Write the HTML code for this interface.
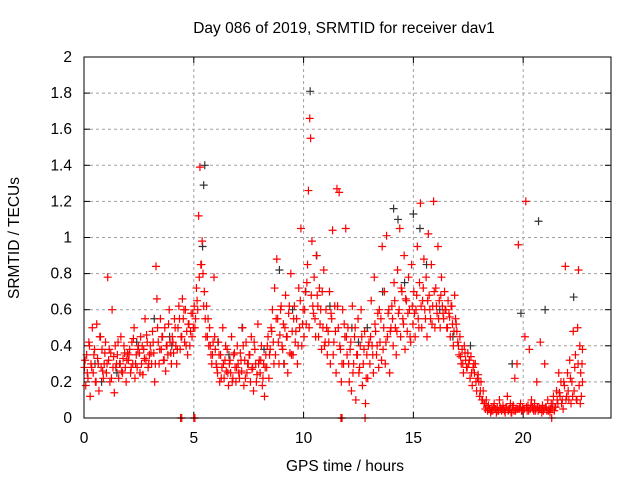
<!DOCTYPE html>
<html><head><meta charset="utf-8"><style>
body{margin:0;background:#fff;}
svg{display:block;font-family:"Liberation Sans",sans-serif;}
</style></head><body>
<svg id="chart" width="640" height="480" viewBox="0 0 640 480">
<rect width="640" height="480" fill="#fff"/>
<text x="344" y="33" font-size="15.5" text-anchor="middle">Day 086 of 2019, SRMTID for receiver dav1</text>
<text x="345" y="471" font-size="15.5" text-anchor="middle">GPS time / hours</text>
<text transform="translate(19,238) rotate(-90)" font-size="15.5" text-anchor="middle">SRMTID / TECUs</text>
<g id="grid"></g><g id="ticks"></g><g id="black"></g><g id="red"></g>
<rect x="84" y="57" width="527" height="361" fill="none" stroke="#000" stroke-width="1"/>
</svg>
<script>
const xTicks=[0,5,10,15,20];
const yTicks=[0,0.2,0.4,0.6,0.8,1,1.2,1.4,1.6,1.8,2];
const yTickLabels=["0","0.2","0.4","0.6","0.8","1","1.2","1.4","1.6","1.8","2"];
const redT=[
0.02,0.08,0.12,0.18,0.22,0.28,0.32,0.38,0.42,0.48,
0.52,0.58,0.62,0.68,0.72,0.78,0.82,0.88,0.92,0.98,
1.02,1.08,1.12,1.18,1.22,1.28,1.32,1.38,1.42,1.48,
1.52,1.58,1.62,1.68,1.72,1.78,1.82,1.88,1.92,1.98,
2.02,2.08,2.12,2.18,2.22,2.28,2.32,2.38,2.42,2.48,
2.52,2.58,2.62,2.68,2.72,2.78,2.82,2.88,2.92,2.98,
3.02,3.08,3.12,3.18,3.22,3.28,3.32,3.38,3.42,3.48,
3.52,3.58,3.62,3.68,3.72,3.78,3.82,3.88,3.92,3.98,
4.02,4.08,4.12,4.18,4.22,4.28,4.32,4.38,4.42,4.48,
4.52,4.58,4.62,4.68,4.72,4.78,4.82,4.88,4.92,4.98,
5.02,5.08,5.12,5.18,5.22,5.28,5.32,5.38,5.42,5.48,
5.52,5.58,5.62,5.68,5.72,5.78,5.82,5.88,5.92,5.98,
6.02,6.08,6.12,6.18,6.22,6.28,6.32,6.38,6.42,6.48,
6.52,6.58,6.62,6.68,6.72,6.78,6.82,6.88,6.92,6.98,
7.02,7.08,7.12,7.18,7.22,7.28,7.32,7.38,7.42,7.48,
7.52,7.58,7.62,7.68,7.72,7.78,7.82,7.88,7.92,7.98,
8.02,8.08,8.12,8.18,8.22,8.28,8.32,8.38,8.42,8.48,
8.52,8.58,8.62,8.68,8.72,8.78,8.82,8.88,8.92,8.98,
9.02,9.08,9.12,9.18,9.22,9.28,9.32,9.38,9.42,9.48,
9.52,9.58,9.62,9.68,9.72,9.78,9.82,9.88,9.92,9.98,
10.02,10.08,10.12,10.18,10.22,10.28,10.32,10.38,10.42,10.48,
10.52,10.58,10.62,10.68,10.72,10.78,10.82,10.88,10.92,10.98,
11.02,11.08,11.12,11.18,11.22,11.28,11.32,11.38,11.42,11.48,
11.52,11.58,11.62,11.68,11.72,11.78,11.82,11.88,11.92,11.98,
12.02,12.08,12.12,12.18,12.22,12.28,12.32,12.38,12.42,12.48,
12.52,12.58,12.62,12.68,12.72,12.78,12.82,12.88,12.92,12.98,
13.02,13.08,13.12,13.18,13.22,13.28,13.32,13.38,13.42,13.48,
13.52,13.58,13.62,13.68,13.72,13.78,13.82,13.88,13.92,13.98,
14.02,14.08,14.12,14.18,14.22,14.28,14.32,14.38,14.42,14.48,
14.52,14.58,14.62,14.68,14.72,14.78,14.82,14.88,14.92,14.98,
15.02,15.08,15.12,15.18,15.22,15.28,15.32,15.38,15.42,15.48,
15.52,15.58,15.62,15.68,15.72,15.78,15.82,15.88,15.92,15.98,
16.02,16.08,16.12,16.18,16.22,16.28,16.32,16.38,16.42,16.48,
16.52,16.58,16.62,16.68,16.72,16.78,16.82,16.88,16.92,16.98,
17.02,17.08,17.12,17.18,17.22,17.28,17.32,17.38,17.42,17.48,
17.52,17.58,17.62,17.68,17.72,17.78,17.82,17.88,17.92,17.98,
18.02,18.08,18.12,18.18,18.22,18.28,18.32,18.38,18.42,18.48,
18.52,18.58,18.62,18.68,18.72,18.78,18.82,18.88,18.92,18.98,
19.02,19.08,19.12,19.18,19.22,19.28,19.32,19.38,19.42,19.48,
19.52,19.58,19.62,19.68,19.72,19.78,19.82,19.88,19.92,19.98,
20.02,20.08,20.12,20.18,20.22,20.28,20.32,20.38,20.42,20.48,
20.52,20.58,20.62,20.68,20.72,20.78,20.82,20.88,20.92,20.98,
21.02,21.08,21.12,21.18,21.22,21.28,21.32,21.38,21.42,21.48,
21.52,21.58,21.62,21.68,21.72,21.78,21.82,21.88,21.92,21.98,
22.02,22.08,22.12,22.18,22.22,22.28,22.32,22.38,22.42,22.48,
22.5,22.52,22.55,22.58,22.6,22.62,22.65,22.68,22.7,22.7,
0.05,0.15,0.25,0.35,0.45,0.55,0.65,0.75,0.85,0.95,
1.05,1.15,1.25,1.35,1.45,1.55,1.65,1.75,1.85,1.95,
2.05,2.15,2.25,2.35,2.45,2.55,2.65,2.75,2.85,2.95,
3.05,3.15,3.25,3.35,3.45,3.55,3.65,3.75,3.85,3.95,
4.05,4.15,4.25,4.35,4.45,4.55,4.65,4.75,4.85,4.95,
5.05,5.15,5.25,5.35,5.45,5.55,5.65,5.75,5.85,5.95,
6.05,6.15,6.25,6.35,6.45,6.55,6.65,6.75,6.85,6.95,
7.05,7.15,7.25,7.35,7.45,7.55,7.65,7.75,7.85,7.95,
8.05,8.15,8.25,8.35,8.45,8.55,8.65,8.75,8.85,8.95,
9.05,9.15,9.25,9.35,9.45,9.55,9.65,9.75,9.85,9.95,
10.05,10.15,10.25,10.35,10.45,10.55,10.65,10.75,10.85,10.95,
11.05,11.15,11.25,11.35,11.45,11.55,11.65,11.75,11.85,11.95,
12.05,12.15,12.25,12.35,12.45,12.55,12.65,12.75,12.85,12.95,
13.05,13.15,13.25,13.35,13.45,13.55,13.65,13.75,13.85,13.95,
14.05,14.15,14.25,14.35,14.45,14.55,14.65,14.75,14.85,14.95,
15.05,15.15,15.25,15.35,15.45,15.55,15.65,15.75,15.85,15.95,
16.05,16.15,16.25,16.35,16.45,16.55,16.65,16.75,16.85,16.95,
17.05,17.15,17.25,17.35,17.45,17.55,17.65,17.75,17.85,17.95,
18.05,18.15,18.25,18.35,18.45,18.55,18.65,18.75,18.85,18.95,
19.05,19.15,19.25,19.35,19.45,19.55,19.65,19.75,19.85,19.95,
20.05,20.15,20.25,20.35,20.45,20.55,20.65,20.75,20.85,20.95,
21.05,21.15,21.25,21.35,21.45,21.55,21.65,21.75,21.85,21.95,
22.05,22.15,22.25,22.35,22.45,
4.4,4.45,5.0,5.05,11.7,11.75,12.8,21.3];
const redV=[
0.28,0.18,0.35,0.22,0.42,0.12,0.3,0.5,0.25,0.38,
0.2,0.52,0.33,0.15,0.45,0.28,0.38,0.22,0.3,0.42,
0.25,0.78,0.32,0.2,0.36,0.6,0.28,0.14,0.4,0.3,
0.35,0.22,0.3,0.45,0.26,0.33,0.4,0.28,0.2,0.36,
0.32,0.38,0.25,0.42,0.3,0.5,0.22,0.35,0.28,0.4,
0.36,0.45,0.3,0.24,0.38,0.55,0.32,0.42,0.28,0.35,
0.4,0.3,0.48,0.36,0.2,0.84,0.66,0.42,0.3,0.55,
0.38,0.45,0.32,0.5,0.26,0.4,0.35,0.6,0.42,0.3,
0.45,0.36,0.55,0.4,0.3,0.5,0.62,0.38,0.45,0.66,
0.55,0.42,0.6,0.48,0.35,0.52,0.4,0.58,0.45,0.5,
0.62,0.55,0.72,0.6,1.12,1.39,0.85,0.98,0.8,0.7,
0.55,0.62,0.45,0.4,0.5,0.35,0.3,0.42,0.78,0.38,
0.3,0.25,0.42,0.2,0.35,0.28,0.5,0.22,0.32,0.26,
0.38,0.18,0.3,0.25,0.45,0.22,0.35,0.28,0.2,0.4,
0.3,0.22,0.36,0.26,0.5,0.18,0.32,0.42,0.25,0.3,
0.35,0.2,0.45,0.28,0.15,0.38,0.3,0.24,0.52,0.32,
0.25,0.4,0.18,0.3,0.12,0.35,0.28,0.45,0.22,0.38,
0.5,0.6,0.42,0.72,0.35,0.88,0.55,0.3,0.46,0.62,
0.4,0.52,0.3,0.68,0.45,0.25,0.58,0.36,0.8,0.48,
0.35,0.62,0.42,0.55,0.3,0.72,0.5,1.05,0.4,0.6,
0.45,0.7,0.52,0.85,1.26,1.66,1.55,0.98,0.62,0.78,
0.55,0.9,0.68,0.45,0.72,0.6,0.38,0.5,0.82,0.42,
0.6,0.35,0.48,0.7,0.3,0.55,1.04,0.42,0.62,0.25,
1.27,0.5,1.25,0.38,0.2,0.6,0.3,0.45,1.05,0.35,
0.5,0.2,0.38,0.15,0.62,0.3,0.45,0.1,0.35,0.55,
0.25,0.4,0.6,0.18,0.3,0.48,0.08,0.35,0.22,0.42,
0.3,0.65,0.4,0.25,0.78,0.48,0.35,0.58,0.28,0.42,
0.55,0.95,0.38,0.7,0.3,1.01,0.45,0.6,0.25,0.5,
0.62,0.4,0.75,0.5,0.35,0.82,0.58,1.05,0.45,0.7,
0.55,0.9,0.38,0.65,0.48,0.78,0.6,0.42,0.85,0.52,
0.7,0.45,0.6,0.95,0.55,0.75,1.19,0.5,0.65,0.88,
0.6,0.78,0.45,1.02,0.68,0.55,0.85,0.62,1.2,0.5,
0.72,0.58,0.95,0.65,0.5,0.78,0.62,0.55,0.7,0.6,
0.5,0.65,0.58,0.45,0.62,0.52,0.4,0.68,0.55,0.48,
0.42,0.35,0.45,0.3,0.38,0.25,0.4,0.32,0.28,0.36,
0.3,0.22,0.34,0.18,0.28,0.25,0.3,0.15,0.22,0.2,
0.12,0.2,0.1,0.15,0.08,0.05,0.1,0.04,0.07,0.05,
0.03,0.06,0.04,0.08,0.05,0.03,0.06,0.04,0.1,0.05,
0.04,0.07,0.05,0.03,0.06,0.12,0.04,0.05,0.08,0.03,
0.06,0.04,0.22,0.05,0.3,0.96,0.05,0.08,0.04,0.06,
0.05,0.45,1.2,0.04,0.07,0.38,0.05,0.1,0.06,0.04,
0.08,0.05,0.2,0.04,0.06,0.42,0.05,0.07,0.04,0.3,
0.06,0.04,0.1,0.05,0.03,0.08,0.05,0.12,0.04,0.06,
0.15,0.08,0.25,0.12,0.2,0.1,0.05,0.18,0.84,0.12,
0.25,0.1,0.32,0.08,0.2,0.48,0.15,0.35,0.1,0.5,
0.3,0.82,0.18,0.4,0.08,0.25,0.12,0.3,0.2,0.38,
0.32,0.25,0.4,0.28,0.35,0.2,0.3,0.45,0.26,0.36,
0.3,0.38,0.22,0.34,0.28,0.42,0.3,0.25,0.36,0.32,
0.35,0.28,0.44,0.3,0.38,0.25,0.4,0.33,0.46,0.3,
0.36,0.42,0.3,0.5,0.38,0.45,0.32,0.4,0.52,0.36,
0.42,0.5,0.38,0.55,0.45,0.6,0.4,0.52,0.48,0.58,
0.5,0.65,0.78,0.85,0.62,0.45,0.55,0.4,0.35,0.45,
0.28,0.35,0.22,0.3,0.4,0.25,0.32,0.2,0.36,0.28,
0.25,0.32,0.4,0.22,0.3,0.35,0.27,0.42,0.2,0.3,
0.32,0.22,0.28,0.4,0.35,0.48,0.3,0.55,0.42,0.6,
0.38,0.5,0.45,0.62,0.35,0.55,0.48,0.4,0.65,0.52,
0.6,0.75,0.5,0.68,0.58,0.45,0.62,0.52,0.7,0.4,
0.5,0.42,0.58,0.35,0.48,0.62,0.4,0.3,0.52,0.45,
0.3,0.42,0.25,0.5,0.35,0.28,0.45,0.38,0.22,0.4,
0.45,0.35,0.52,0.4,0.6,0.32,0.5,0.42,0.58,0.48,
0.55,0.65,0.48,0.6,0.72,0.52,0.66,0.58,0.45,0.62,
0.58,0.68,0.5,0.62,0.72,0.55,0.65,0.6,0.52,0.7,
0.62,0.55,0.68,0.58,0.6,0.5,0.56,0.62,0.48,0.52,
0.4,0.34,0.3,0.36,0.28,0.32,0.25,0.3,0.2,0.24,
0.15,0.1,0.08,0.06,0.05,0.04,0.06,0.05,0.04,0.06,
0.05,0.04,0.06,0.05,0.03,0.07,0.04,0.05,0.06,0.04,
0.05,0.06,0.04,0.07,0.05,0.04,0.06,0.05,0.03,0.05,
0.06,0.04,0.05,0.08,0.06,0.1,0.14,0.08,0.2,0.1,
0.15,0.22,0.12,0.28,0.1,
0,0,0,0,0,0,0,0];
const blackT=[0.5,1.5,2.4,3.2,4.0,5.45,5.5,5.4,6.1,7.2,8.2,8.9,9.5,10.1,10.3,10.6,11.2,12.2,12.5,13.6,14.1,14.3,14.6,15.0,15.3,15.6,16.2,16.8,19.5,19.9,20.7,21.0,22.3,0.8,3.9,6.6,9.1,12.9,17.6];
const blackV=[0.3,0.25,0.42,0.55,0.4,1.29,1.4,0.95,0.42,0.5,0.38,0.82,0.6,0.7,1.81,0.9,0.62,0.5,0.42,0.7,1.16,1.1,0.75,1.13,1.05,0.85,0.6,0.45,0.3,0.58,1.09,0.6,0.67,0.2,0.45,0.35,0.3,0.5,0.4];
const NS="http://www.w3.org/2000/svg";
const X0=84,X1=611,Y0=418,Y1=57;
function xs(t){return X0+(X1-X0)*t/24;}
function ys(v){return Y0-(Y0-Y1)*v/2;}
function mk(tag,attrs,parent){const e=document.createElementNS(NS,tag);for(const k in attrs)e.setAttribute(k,attrs[k]);parent.appendChild(e);return e;}
const grid=document.getElementById('grid'),ticks=document.getElementById('ticks');
xTicks.forEach(t=>{
  const x=xs(t);
  if(t>0){const g=mk('line',{x1:x,x2:x,y1:Y1,y2:Y0,stroke:'#a0a0a0','stroke-dasharray':'3,3'},grid);
  
  }
  const l=mk('text',{x:x,y:443,'font-size':15.5,'text-anchor':'middle'},ticks);l.textContent=t;
  
  
  mk('line',{x1:x,x2:x,y1:Y0,y2:Y0-6,stroke:'#000'},ticks);
  mk('line',{x1:x,x2:x,y1:Y1,y2:Y1+6,stroke:'#000'},ticks);
});
yTicks.forEach((v,i)=>{
  const y=ys(v);
  if(v>0&&v<2){const g=mk('line',{x1:X0,x2:X1,y1:y,y2:y,stroke:'#a0a0a0','stroke-dasharray':'3,3'},grid);
  
  }
  const l=mk('text',{x:72,y:y+5,'font-size':15.5,'text-anchor':'end'},ticks);l.textContent=yTickLabels[i];
  
  
  mk('line',{x1:X0,x2:X0+6,y1:y,y2:y,stroke:'#000'},ticks);
  mk('line',{x1:X1,x2:X1-6,y1:y,y2:y,stroke:'#000'},ticks);
});
function plus(g,t,v,c,name){
  const x=xs(t),y=ys(v);
  const p=mk('path',{d:`M${x-4} ${y}H${x+4}M${x} ${y-4}V${y+4}`,stroke:c,'stroke-width':1.2,fill:'none'},g);
  
  
}
const bg=document.getElementById('black'),rg=document.getElementById('red');
blackT.forEach((t,i)=>plus(bg,t,blackV[i],'#333','black-point'));
redT.forEach((t,i)=>plus(rg,t,redV[i],'#ff0000','red-point'));
</script>
</body></html>
